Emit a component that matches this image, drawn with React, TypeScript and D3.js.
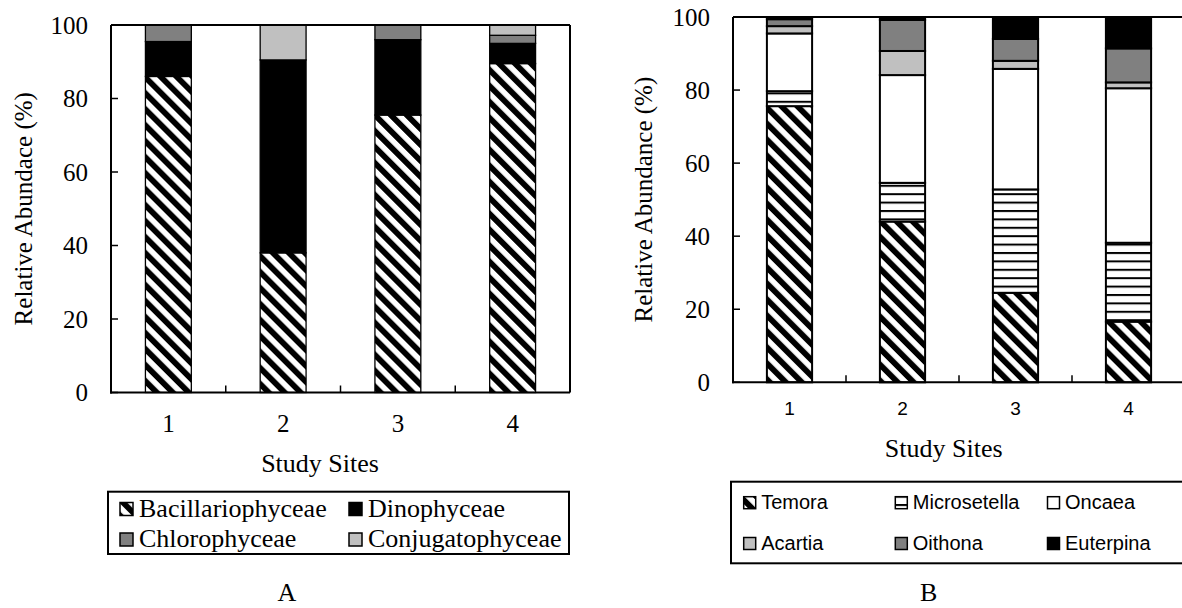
import React from "react";
import * as d3 from "d3";

// study sites and y ticks (shared)
const SITES = ["1", "2", "3", "4"];
const TICKS = [0, 20, 40, 60, 80, 100];

// A: phytoplankton classes, % per site
const PHYTO_NAMES = ["Bacillariophyceae", "Dinophyceae", "Chlorophyceae", "Conjugatophyceae"];
const BACILLARIOPHYCEAE = [86, 38, 75.5, 89.5];
const DINOPHYCEAE = [9.5, 52.5, 20.5, 5.5];
const CHLOROPHYCEAE = [4.5, 0, 4, 2.2];
const CONJUGATOPHYCEAE = [0, 9.5, 0, 2.8];

// B: zooplankton genera, % per site
const ZOO_NAMES = ["Temora", "Microsetella", "Oncaea", "Acartia", "Oithona", "Euterpina"];
const TEMORA = [75.6, 44.0, 24.5, 16.6];
const MICROSETELLA = [4.1, 10.6, 28.3, 21.6];
const ONCAEA = [15.8, 29.5, 33.0, 42.3];
const ACARTIA = [2.0, 6.6, 2.2, 1.6];
const OITHONA = [1.9, 8.5, 6.0, 9.3];
const EUTERPINA = [0.6, 0.8, 6.0, 8.6];

const SERIF = "'Liberation Serif', 'Times New Roman', serif";
const SANS = "'Liberation Sans', Arial, sans-serif";

const toRows = (names: string[], cols: number[][]) =>
  SITES.map((s, i) => {
    const r: any = { site: s };
    names.forEach((n, j) => (r[n] = cols[j][i]));
    return r;
  });

type ChartProps = {
  names: string[];
  cols: number[][];
  fills: string[];
  left: number;
  right: number;
  top: number;
  bottom: number;
  strokeW: number;
  yLabel: string;
  yLabelX: number;
  tickFont: string;
  tickSize: number;
  tickBaseline: number;
};

function StackChart(p: ChartProps) {
  const rows = toRows(p.names, p.cols);
  const series = d3.stack().keys(p.names)(rows);
  const x = d3.scaleBand().domain(SITES).range([p.left, p.right]).paddingInner(0.6).paddingOuter(0.3);
  const y = d3.scaleLinear().domain([0, 100]).range([p.bottom, p.top]);
  const step = x.step();
  const midY = (p.top + p.bottom) / 2;

  return (
    <g>
      {series.map((s, si) => (
        <g key={s.key}>
          {s.map((d, i) =>
            d[1] - d[0] > 0 ? (
              <rect
                key={i}
                x={x(SITES[i])}
                y={y(d[1])}
                width={x.bandwidth()}
                height={y(d[0]) - y(d[1])}
                fill={p.fills[si]}
                stroke="#000"
                strokeWidth={p.strokeW}
              />
            ) : null
          )}
        </g>
      ))}
      {/* frame: top + right */}
      <line x1={p.left} x2={p.right} y1={p.top} y2={p.top} stroke="#000" strokeWidth={2} />
      <line x1={p.right} x2={p.right} y1={p.top} y2={p.bottom} stroke="#000" strokeWidth={2} />
      {/* axes */}
      <line x1={p.left} x2={p.left} y1={p.top} y2={p.bottom + 1} stroke="#000" strokeWidth={2} />
      <line x1={p.left - 1} x2={p.right} y1={p.bottom} y2={p.bottom} stroke="#000" strokeWidth={2} />
      {TICKS.map((t) => (
        <g key={t}>
          <line x1={p.left} x2={p.left + 7} y1={y(t)} y2={y(t)} stroke="#000" strokeWidth={1.5} />
          <text
            x={p.left - 23}
            y={y(t) + 8.5}
            textAnchor="end"
            fontFamily={SERIF}
            fontSize={25}
          >
            {t}
          </text>
        </g>
      ))}
      {SITES.slice(1).map((s) => {
        const bx = (x(s) as number) + x.bandwidth() / 2 - step / 2;
        return <line key={s} x1={bx} x2={bx} y1={p.bottom} y2={p.bottom - 7} stroke="#000" strokeWidth={1.5} />;
      })}
      {SITES.map((s) => (
        <text
          key={s}
          x={(x(s) as number) + x.bandwidth() / 2}
          y={p.tickBaseline}
          textAnchor="middle"
          fontFamily={p.tickFont}
          fontSize={p.tickSize}
        >
          {s}
        </text>
      ))}
      <text
        transform={`translate(${p.yLabelX},${midY}) rotate(-90)`}
        textAnchor="middle"
        fontFamily={SERIF}
        fontSize={25}
      >
        {p.yLabel}
      </text>
    </g>
  );
}

function Legend({ items, fills, xs, ys, box, size, textDx, baseDy, font, fontSize }: any) {
  return (
    <g>
      <rect x={box[0]} y={box[1]} width={box[2]} height={box[3]} fill="#fff" stroke="#000" strokeWidth={2} />
      {items.map((name: string, i: number) => {
        const cx = xs[i % xs.length];
        const cy = ys[Math.floor(i / xs.length)];
        return (
          <g key={name}>
            <rect x={cx} y={cy} width={size} height={size} fill={fills[i]} stroke="#000" strokeWidth={1.5} />
            <text x={cx + textDx} y={cy + baseDy} fontFamily={font} fontSize={fontSize}>
              {name}
            </text>
          </g>
        );
      })}
    </g>
  );
}

export default function App() {
  const phytoFills = ["url(#diag)", "#000", "#808080", "#c0c0c0"];
  const zooFills = ["url(#diag)", "url(#hlines)", "#fff", "#c0c0c0", "#808080", "#000"];

  return (
    <svg
      width={1182}
      height={608}
      style={{ position: "absolute", left: 0, top: 0, background: "#fff" }}
    >
      <defs>
        <pattern id="diag" patternUnits="userSpaceOnUse" width={11.3} height={11.3} patternTransform="rotate(-45)">
          <rect width={11.3} height={11.3} fill="#fff" />
          <rect width={5.8} height={11.3} fill="#000" />
        </pattern>
        <pattern id="hlines" patternUnits="userSpaceOnUse" width={10} height={8.4}>
          <rect width={10} height={8.4} fill="#fff" />
          <rect width={10} height={2} fill="#000" />
        </pattern>
      </defs>
      <rect width={1182} height={608} fill="#fff" />

      <StackChart
        names={PHYTO_NAMES}
        cols={[BACILLARIOPHYCEAE, DINOPHYCEAE, CHLOROPHYCEAE, CONJUGATOPHYCEAE]}
        fills={phytoFills}
        left={111}
        right={570}
        top={25}
        bottom={392.5}
        strokeW={1.3}
        yLabel="Relative Abundace (%)"
        yLabelX={32}
        tickFont={SERIF}
        tickSize={25}
        tickBaseline={431.7}
      />
      <text x={320} y={471.7} textAnchor="middle" fontFamily={SERIF} fontSize={26}>Study Sites</text>
      <Legend
        items={PHYTO_NAMES}
        fills={phytoFills}
        xs={[120, 349]}
        ys={[502.5, 533]}
        box={[108, 491.7, 461, 62.3]}
        size={13}
        textDx={19}
        baseDy={14}
        font={SERIF}
        fontSize={26}
      />
      <text x={287} y={600.7} textAnchor="middle" fontFamily={SERIF} fontSize={26}>A</text>

      <StackChart
        names={ZOO_NAMES}
        cols={[TEMORA, MICROSETELLA, ONCAEA, ACARTIA, OITHONA, EUTERPINA]}
        fills={zooFills}
        left={733}
        right={1185}
        top={17}
        bottom={382.3}
        strokeW={2}
        yLabel="Relative Abundance (%)"
        yLabelX={652}
        tickFont={SANS}
        tickSize={19}
        tickBaseline={415}
      />
      <text x={943.7} y={457} textAnchor="middle" fontFamily={SERIF} fontSize={26}>Study Sites</text>
      <Legend
        items={ZOO_NAMES}
        fills={zooFills}
        xs={[743.7, 895.3, 1047.5]}
        ys={[496.7, 537.5]}
        box={[731, 481.7, 470, 81.6]}
        size={12}
        textDx={17.5}
        baseDy={12.5}
        font={SANS}
        fontSize={20}
      />
      <text x={928.7} y={600.7} textAnchor="middle" fontFamily={SERIF} fontSize={26}>B</text>
    </svg>
  );
}
